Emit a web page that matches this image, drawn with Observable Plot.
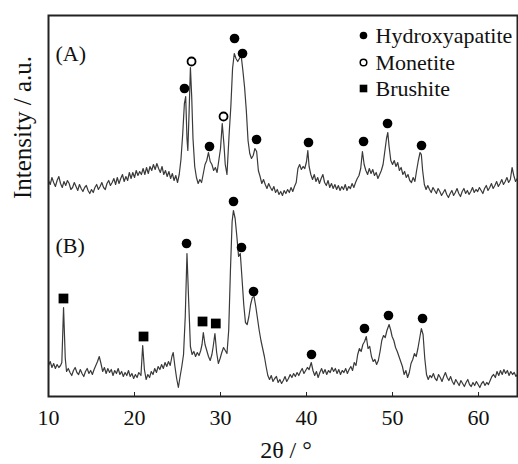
<!DOCTYPE html>
<html><head><meta charset="utf-8">
<script src="https://cdn.jsdelivr.net/npm/d3@7"></script>
<script src="https://cdn.jsdelivr.net/npm/@observablehq/plot@0.6"></script>
<style>body{margin:0;background:#fff}</style>
</head><body><div id="chart"></div>
<script>
const xTicks = [10, 20, 30, 40, 50, 60];
const xLabel = "2θ / °";
const yLabel = "Intensity / a.u.";
const panelLabels = ["(A)", "(B)"];
const legendItems = ["Hydroxyapatite", "Monetite", "Brushite"];

// trace (A): [2θ, intensity]
const traceA = [
[10.0,216],[10.2,212],[10.4,219],[10.6,214],[10.8,210],[11.0,216],[11.2,220],[11.4,213],[11.6,209],[11.8,215],
[12.0,211],[12.2,216],[12.4,213],[12.6,207],[12.8,209],[13.0,214],[13.2,210],[13.4,206],[13.6,212],[13.8,208],
[14.0,205],[14.2,209],[14.4,211],[14.6,206],[14.8,203],[15.0,207],[15.2,204],[15.4,209],[15.6,212],[15.8,207],
[16.0,210],[16.2,214],[16.4,209],[16.6,207],[16.8,213],[17.0,216],[17.2,211],[17.4,214],[17.6,218],[17.8,212],
[18.0,219],[18.2,213],[18.4,218],[18.6,222],[18.8,215],[19.0,220],[19.2,216],[19.4,224],[19.6,218],[19.8,224],
[20.0,219],[20.2,226],[20.4,221],[20.6,225],[20.8,222],[21.0,228],[21.2,222],[21.4,229],[21.6,223],[21.8,230],
[22.0,226],[22.2,232],[22.4,227],[22.6,233],[22.8,228],[23.0,224],[23.2,230],[23.4,222],[23.6,226],[23.8,220],
[24.0,225],[24.2,218],[24.4,223],[24.6,216],[24.8,221],[25.0,214],[25.2,222],[25.4,237],[25.6,262],[25.8,293],
[25.95,300],[26.1,258],[26.2,246],[26.35,285],[26.5,329],[26.65,300],[26.8,258],[27.0,230],[27.2,219],[27.4,213],
[27.6,217],[27.8,214],[28.0,223],[28.2,232],[28.4,236],[28.6,244],[28.8,235],[29.0,232],[29.2,226],[29.4,229],
[29.6,224],[29.8,236],[30.0,248],[30.2,273],[30.4,252],[30.55,232],[30.75,222],[31.0,262],[31.2,290],[31.4,328],
[31.6,343],[31.8,338],[32.0,335],[32.2,338],[32.4,341],[32.6,326],[32.8,309],[33.0,286],[33.2,256],[33.4,243],
[33.6,238],[33.8,241],[34.0,248],[34.2,245],[34.4,226],[34.6,220],[34.8,213],[35.0,217],[35.2,212],[35.4,208],
[35.6,213],[35.8,209],[36.0,206],[36.2,210],[36.4,204],[36.6,207],[36.8,202],[37.0,205],[37.2,201],[37.4,206],
[37.6,203],[37.8,207],[38.0,204],[38.2,209],[38.4,205],[38.6,210],[38.8,214],[39.0,228],[39.2,232],[39.4,227],
[39.6,230],[39.8,228],[40.0,235],[40.15,246],[40.3,230],[40.5,222],[40.7,217],[40.9,222],[41.1,215],[41.3,219],
[41.5,213],[41.7,218],[41.9,222],[42.1,214],[42.3,211],[42.5,216],[42.7,209],[42.9,213],[43.1,208],[43.3,212],
[43.5,207],[43.7,211],[43.9,206],[44.1,210],[44.3,207],[44.5,212],[44.7,206],[44.9,210],[45.1,208],[45.3,213],
[45.5,209],[45.7,214],[45.9,218],[46.1,221],[46.3,228],[46.5,245],[46.7,232],[46.9,226],[47.1,222],[47.3,228],
[47.5,223],[47.7,227],[47.9,221],[48.1,224],[48.3,218],[48.5,222],[48.7,226],[48.9,232],[49.1,245],[49.3,258],
[49.45,264],[49.6,250],[49.8,236],[50.0,232],[50.2,236],[50.4,230],[50.6,234],[50.8,226],[51.0,229],[51.2,222],
[51.4,225],[51.6,219],[51.8,222],[52.0,216],[52.2,214],[52.4,219],[52.6,215],[52.8,226],[53.0,236],[53.2,244],
[53.35,242],[53.5,226],[53.7,212],[53.9,207],[54.1,211],[54.3,207],[54.5,204],[54.7,209],[54.9,206],[55.1,203],
[55.3,208],[55.5,205],[55.7,201],[55.9,204],[56.1,207],[56.3,202],[56.5,199],[56.7,203],[56.9,206],[57.1,201],
[57.3,204],[57.5,208],[57.7,203],[57.9,200],[58.1,205],[58.3,208],[58.5,203],[58.7,206],[58.9,202],[59.1,205],
[59.3,209],[59.5,204],[59.7,207],[59.9,205],[60.1,209],[60.3,206],[60.5,203],[60.7,208],[60.9,211],[61.1,206],
[61.3,209],[61.5,213],[61.7,208],[61.9,211],[62.1,215],[62.3,210],[62.5,213],[62.7,217],[62.9,212],[63.1,215],
[63.3,219],[63.5,214],[63.7,217],[63.9,229],[64.1,221],[64.3,215],[64.5,218]
];

// trace (B): [2θ, intensity]
const traceB = [
[10.0,31],[10.2,35],[10.4,29],[10.6,33],[10.8,28],[11.0,32],[11.2,29],[11.4,31],[11.55,34],[11.75,89],
[11.95,38],[12.1,25],[12.3,28],[12.5,24],[12.7,21],[12.9,26],[13.1,29],[13.3,24],[13.5,22],[13.7,27],
[13.9,23],[14.1,20],[14.3,25],[14.5,28],[14.7,23],[14.9,26],[15.1,22],[15.3,27],[15.5,31],[15.7,35],
[15.9,40],[16.1,33],[16.3,25],[16.5,29],[16.7,23],[16.9,28],[17.1,24],[17.3,27],[17.5,21],[17.7,26],
[17.9,23],[18.1,28],[18.3,22],[18.5,25],[18.7,20],[18.9,24],[19.1,21],[19.3,26],[19.5,20],[19.7,23],
[19.9,18],[20.1,22],[20.3,19],[20.5,24],[20.75,21],[20.95,51],[21.15,27],[21.35,17],[21.55,22],[21.75,19],
[21.95,25],[22.15,22],[22.35,28],[22.55,24],[22.75,30],[22.95,27],[23.15,32],[23.35,28],[23.55,34],[23.75,30],
[23.95,35],[24.15,31],[24.35,40],[24.5,44],[24.7,30],[24.9,18],[25.1,9],[25.3,20],[25.5,30],[25.7,42],
[25.9,80],[26.1,143],[26.3,95],[26.5,50],[26.7,42],[26.9,45],[27.1,40],[27.3,44],[27.5,41],[27.7,46],
[27.85,52],[28.0,64],[28.2,52],[28.4,46],[28.6,40],[28.8,36],[29.0,42],[29.15,50],[29.35,63],[29.55,44],
[29.75,33],[29.95,38],[30.15,44],[30.35,49],[30.55,46],[30.75,43],[30.95,66],[31.15,125],[31.35,175],[31.5,186],
[31.7,178],[31.9,160],[32.1,140],[32.3,143],[32.5,118],[32.7,92],[32.9,74],[33.1,72],[33.3,80],[33.5,92],
[33.7,99],[33.9,100],[34.1,90],[34.3,78],[34.5,66],[34.7,56],[34.9,48],[35.1,40],[35.3,30],[35.5,21],
[35.7,17],[35.9,21],[36.1,15],[36.3,18],[36.5,20],[36.7,14],[36.9,17],[37.1,13],[37.3,16],[37.5,20],
[37.7,15],[37.9,18],[38.1,22],[38.3,19],[38.5,23],[38.7,20],[38.9,24],[39.1,21],[39.3,25],[39.5,28],
[39.7,23],[39.9,26],[40.1,29],[40.3,27],[40.55,34],[40.75,26],[40.95,21],[41.15,25],[41.35,19],[41.55,24],
[41.75,28],[41.95,23],[42.15,27],[42.35,22],[42.55,26],[42.75,24],[42.95,29],[43.15,25],[43.35,28],[43.55,23],
[43.75,27],[43.95,22],[44.15,26],[44.35,24],[44.55,28],[44.75,23],[44.95,27],[45.15,30],[45.35,26],[45.55,34],
[45.75,31],[45.95,42],[46.15,48],[46.35,45],[46.55,52],[46.75,55],[46.95,60],[47.15,48],[47.35,50],[47.55,40],
[47.75,35],[47.95,37],[48.15,32],[48.35,36],[48.55,45],[48.75,56],[48.95,61],[49.15,59],[49.35,66],[49.6,72],
[49.8,66],[49.95,60],[50.15,56],[50.35,49],[50.55,45],[50.75,40],[50.95,35],[51.15,30],[51.35,22],[51.55,26],
[51.75,19],[51.95,24],[52.15,33],[52.35,37],[52.55,43],[52.75,40],[52.95,48],[53.15,58],[53.35,68],[53.55,62],
[53.75,38],[53.95,22],[54.15,17],[54.35,21],[54.55,19],[54.75,23],[54.95,18],[55.15,16],[55.35,22],[55.55,19],
[55.75,15],[55.95,20],[56.15,24],[56.35,19],[56.55,16],[56.75,20],[56.95,15],[57.15,12],[57.35,17],[57.55,14],
[57.75,11],[57.95,16],[58.15,13],[58.35,10],[58.55,14],[58.75,17],[58.95,12],[59.15,10],[59.35,14],[59.55,11],
[59.75,15],[59.95,12],[60.15,9],[60.35,13],[60.55,15],[60.75,11],[60.95,14],[61.15,12],[61.35,16],[61.55,20],
[61.75,22],[61.95,19],[62.15,25],[62.35,21],[62.55,26],[62.75,22],[62.95,27],[63.15,23],[63.35,26],[63.55,21],
[63.75,25],[63.95,22],[64.15,24],[64.35,20],[64.5,22]
];

// peak markers: [2θ, intensity]
const hydroxyapatiteA = [[25.81,308],[28.72,250],[31.63,358],[32.56,343],[34.19,257],[40.23,254],[46.63,255],[49.42,273],[53.37,251]];
const monetiteA = [[26.63,335],[30.35,280]];
const hydroxyapatiteB = [[26.05,153],[31.51,195],[32.44,149],[33.84,105],[40.58,42],[46.74,68],[49.53,81],[53.49,78]];
const brushiteB = [[11.74,98],[21.05,60],[27.91,75],[29.45,73]];

const font = "'Liberation Serif','Times New Roman',serif";
const px = d => d[0], py = d => d[1];
const legendDy = [20, 47, 73];

const chart = Plot.plot({
  width: 518,
  height: 464,
  marginLeft: 48,
  marginRight: 1,
  marginTop: 15,
  marginBottom: 68,
  style: {fontFamily: font, fontSize: "22px", background: "#fff", color: "#111"},
  x: {domain: [10, 64.53]},
  y: {domain: [0, 381], axis: null},
  marks: [
    Plot.line(traceA, {x: px, y: py, stroke: "#3a3a3a", strokeWidth: 1.2}),
    Plot.line(traceB, {x: px, y: py, stroke: "#3a3a3a", strokeWidth: 1.2}),
    Plot.dot(hydroxyapatiteA, {x: px, y: py, r: 4.8, fill: "#000"}),
    Plot.dot(monetiteA, {x: px, y: py, r: 4, fill: "#fff", stroke: "#000", strokeWidth: 1.8}),
    Plot.dot(hydroxyapatiteB, {x: px, y: py, r: 4.8, fill: "#000"}),
    Plot.dot(brushiteB, {x: px, y: py, symbol: "square", r: 5.5, fill: "#000"}),
    Plot.frame({stroke: "#222", strokeWidth: 2}),
    Plot.axisX({ticks: xTicks, tickSize: -4, tickPadding: 17, label: null, fontSize: 22, tickFormat: d => String(d), stroke: "#222"}),
    Plot.text([xLabel], {x: null, y: null, text: d => d, frameAnchor: "bottom", lineAnchor: "middle", dy: 54, dx: 3, fontSize: 24}),
    Plot.text([yLabel], {x: null, y: null, text: d => d, frameAnchor: "left", lineAnchor: "middle", rotate: -90, dx: -26, dy: -7, fontSize: 25}),
    Plot.text([panelLabels[0]], {x: null, y: null, text: d => d, frameAnchor: "top-left", lineAnchor: "middle", dx: 7, dy: 38, textAnchor: "start", fontSize: 22}),
    Plot.text([panelLabels[1]], {x: null, y: null, text: d => d, frameAnchor: "top-left", lineAnchor: "middle", dx: 7, dy: 230, textAnchor: "start", fontSize: 22}),
    Plot.dot([legendItems[0]], {x: null, y: null, frameAnchor: "top-right", dx: -154, dy: legendDy[0], r: 3.8, fill: "#000"}),
    Plot.dot([legendItems[1]], {x: null, y: null, frameAnchor: "top-right", dx: -154, dy: legendDy[1], r: 3.3, fill: "#fff", stroke: "#000", strokeWidth: 1.5}),
    Plot.dot([legendItems[2]], {x: null, y: null, frameAnchor: "top-right", dx: -154, dy: legendDy[2], symbol: "square", r: 4.3, fill: "#000"}),
    ...legendItems.map((name, i) => Plot.text([name], {x: null, y: null, text: d => d, frameAnchor: "top-right", lineAnchor: "middle", dx: -142, dy: legendDy[i], textAnchor: "start", fontSize: 22}))
  ]
});
document.getElementById("chart").appendChild(chart);
</script>
</body></html>
